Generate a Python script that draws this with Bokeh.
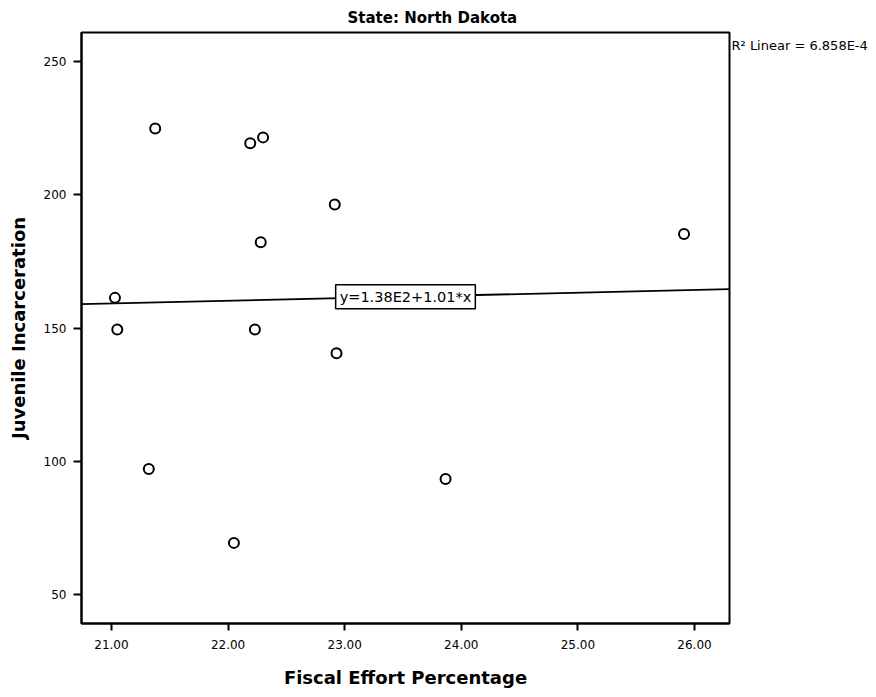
from bokeh.plotting import figure
from bokeh.models import Range1d, FixedTicker, PrintfTickFormatter, Label, Title, ColumnDataSource, LinearAxis
from bokeh.embed import file_html
from bokeh.resources import INLINE

# data
fiscal_effort = [21.375, 22.19, 22.30, 22.915, 22.28, 21.03, 21.05, 22.23, 22.93, 21.32, 22.05, 23.865, 25.91]
juvenile_incarceration = [224.8, 219.3, 221.5, 196.3, 182.2, 161.3, 149.4, 149.4, 140.5, 97.1, 69.4, 93.4, 185.3]
fit_intercept = 138.0
fit_slope = 1.01
fit_label = "y=1.38E2+1.01*x"
r2_label = "R\u00b2 Linear = 6.858E-4"
r2_label_y = 255.8
x_ticks = [21, 22, 23, 24, 25, 26]
y_ticks = [50, 100, 150, 200, 250]
title_text = "State: North Dakota"
x_title = "Fiscal Effort Percentage"
y_title = "Juvenile Incarceration"

x_start, x_end = 20.743, 26.30
y_start, y_end = 39.16, 260.84

p = figure(width=870, height=690, output_backend="svg", toolbar_location=None,
           x_range=Range1d(x_start, x_end), y_range=Range1d(y_start, y_end),
           min_border_left=81, min_border_right=141, min_border_top=32, min_border_bottom=66)

p.title = Title(text=title_text, align="left", offset=266, standoff=11,
                text_font="DejaVu Sans", text_font_size="15px", text_font_style="bold",
                text_color="black")

p.background_fill_color = "white"
p.border_fill_color = "white"
p.outline_line_color = "black"
p.outline_line_width = 2
p.grid.visible = False

for ax in (p.xaxis[0], p.yaxis[0]):
    ax.axis_line_color = "black"
    ax.axis_line_width = 2
    ax.major_tick_line_color = "black"
    ax.major_tick_line_width = 2
    ax.major_tick_in = 0
    ax.minor_tick_line_color = None
    ax.major_label_text_font = "DejaVu Sans"
    ax.major_label_text_font_size = "12px"
    ax.major_label_text_color = "black"
    ax.axis_label_text_font = "DejaVu Sans"
    ax.axis_label_text_font_size = "18px"
    ax.axis_label_text_font_style = "bold"
    ax.axis_label_text_color = "black"

p.xaxis.ticker = FixedTicker(ticks=x_ticks)
p.xaxis.formatter = PrintfTickFormatter(format="%.2f")
p.xaxis.major_tick_out = 7
p.xaxis.major_label_standoff = 9
p.xaxis.axis_label = x_title
p.xaxis.axis_label_standoff = 15

p.yaxis.ticker = FixedTicker(ticks=y_ticks)
p.yaxis.major_tick_out = 8
p.yaxis.major_label_standoff = 7
p.yaxis.axis_label = y_title
p.yaxis.axis_label_standoff = 12

# R^2 note placed beside the frame on the right
r2_axis = LinearAxis(ticker=FixedTicker(ticks=[r2_label_y]),
                     major_label_overrides={r2_label_y: r2_label},
                     axis_line_color=None, major_tick_line_color=None,
                     minor_tick_line_color=None, major_tick_in=0, major_tick_out=0,
                     major_label_standoff=2, major_label_text_font="DejaVu Sans",
                     major_label_text_font_size="13px", major_label_text_color="black")
p.add_layout(r2_axis, "right")

# regression line
fit_x = [x_start, x_end]
fit_y = [fit_intercept + fit_slope * v for v in fit_x]
p.line(fit_x, fit_y, line_color="black", line_width=1.8)

# points
src = ColumnDataSource(dict(x=fiscal_effort, y=juvenile_incarceration))
p.scatter("x", "y", source=src, marker="circle", size=10, fill_color="white",
          line_color="black", line_width=2)

# fit label box at frame center on the line
xm = (x_start + x_end) / 2
p.add_layout(Label(x=xm, y=fit_intercept + fit_slope * xm, text=fit_label,
                   text_align="center", text_baseline="middle",
                   text_font="DejaVu Sans", text_font_size="14.5px", text_color="black",
                   background_fill_color="white", border_line_color="black",
                   border_line_width=1.5, padding=4))

open("out.html", "w").write(file_html(p, INLINE))
